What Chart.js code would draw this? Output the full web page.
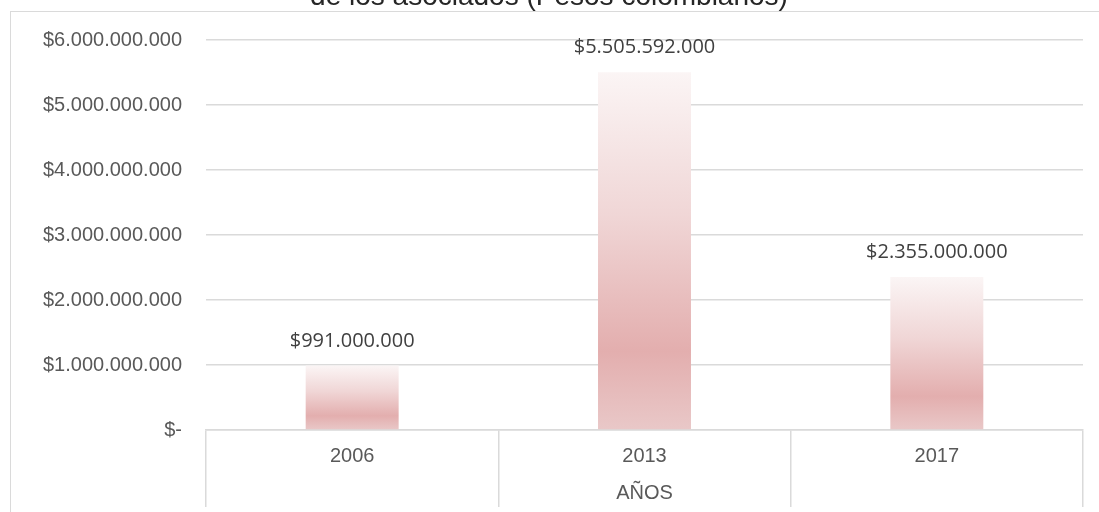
<!DOCTYPE html>
<html>
<head>
<meta charset="utf-8">
<script src="https://cdn.jsdelivr.net/npm/chart.js@4"></script>
<style>
  html, body { margin: 0; padding: 0; background: #fff; }
  canvas { display: block; }
</style>
</head>
<body>
<canvas id="chart" width="1099" height="512"></canvas>
<script>
/* Inversión de los asociados — barras por año */

var titulo = 'de los asociados (Pesos colombianos)';
var anios = ['2006', '2013', '2017'];
var valores = [991000000, 5505592000, 2355000000];
var etiquetasValor = ['$991.000.000', '$5.505.592.000', '$2.355.000.000'];
var etiquetasY = ['$-', '$1.000.000.000', '$2.000.000.000', '$3.000.000.000',
                  '$4.000.000.000', '$5.000.000.000', '$6.000.000.000'];

var gris = '#dadada';
var textoEje = '#595959';

// gradient per bar, from its top down to the zero line
function degradado(context) {
  var chart = context.chart;
  if (!chart.chartArea) return '#e6baba';
  var y = chart.scales.y;
  var top = y.getPixelForValue(context.raw);
  var base = y.getPixelForValue(0);
  if (!isFinite(top) || base - top < 1) return '#e6baba';
  var g = chart.ctx.createLinearGradient(0, top, 0, base);
  g.addColorStop(0, '#fbf5f5');
  g.addColorStop(0.4, '#f0d6d6');
  g.addColorStop(0.78, '#e3aeae');
  g.addColorStop(1, '#e9c8c8');
  return g;
}

// outer frame + title (cut at top like the original)
var marco = {
  id: 'marco',
  beforeDraw: function (chart) {
    var ctx = chart.ctx;
    ctx.save();
    ctx.strokeStyle = gris;
    ctx.lineWidth = 1;
    ctx.strokeRect(10.5, 11.5, 2000, 1000);
    ctx.fillStyle = '#262626';
    ctx.font = '28px "Liberation Sans", Arial, sans-serif';
    ctx.textAlign = 'center';
    ctx.textBaseline = 'alphabetic';
    ctx.fillText(titulo, 549, 5);
    ctx.restore();
  }
};

// value labels above the bars
var etiquetas = {
  id: 'etiquetas',
  afterDatasetsDraw: function (chart) {
    var ctx = chart.ctx;
    var meta = chart.getDatasetMeta(0);
    ctx.save();
    ctx.fillStyle = '#404040';
    ctx.font = '20px "Open Sans", sans-serif';
    ctx.textAlign = 'center';
    ctx.textBaseline = 'alphabetic';
    meta.data.forEach(function (bar, i) {
      ctx.fillText(etiquetasValor[i], bar.x, bar.y - 19);
    });
    ctx.restore();
  }
};

new Chart(document.getElementById('chart'), {
  type: 'bar',
  data: {
    labels: anios,
    datasets: [{
      data: valores,
      backgroundColor: degradado,
      borderWidth: 0,
      categoryPercentage: 1,
      barPercentage: 0.318
    }]
  },
  options: {
    responsive: false,
    animation: false,
    devicePixelRatio: 1,
    layout: { padding: { top: 40, right: 16, bottom: 0, left: 0 } },
    plugins: {
      legend: { display: false },
      tooltip: { enabled: false }
    },
    scales: {
      x: {
        afterFit: function (scale) { scale.height = 82; },
        grid: {
          offset: true,
          drawOnChartArea: false,
          drawTicks: true,
          tickLength: 77,
          color: gris,
          lineWidth: 1.5
        },
        border: { display: true, color: gris, width: 1.5 },
        ticks: {
          padding: -63,
          color: textoEje,
          font: { family: '"Liberation Sans", Arial, sans-serif', size: 20 }
        },
        title: {
          display: true,
          text: 'AÑOS',
          color: textoEje,
          padding: { top: 0, bottom: 7 },
          font: { family: '"Liberation Sans", Arial, sans-serif', size: 20 }
        }
      },
      y: {
        min: 0,
        max: 6000000000,
        afterFit: function (scale) { scale.width = 206; },
        grid: { color: gris, lineWidth: 1.5, drawTicks: false },
        border: { display: false },
        ticks: {
          stepSize: 1000000000,
          padding: 24,
          color: textoEje,
          font: { family: '"Liberation Sans", Arial, sans-serif', size: 20 },
          callback: function (value, index) { return etiquetasY[index]; }
        }
      }
    }
  },
  plugins: [marco, etiquetas]
});
</script>
</body>
</html>
